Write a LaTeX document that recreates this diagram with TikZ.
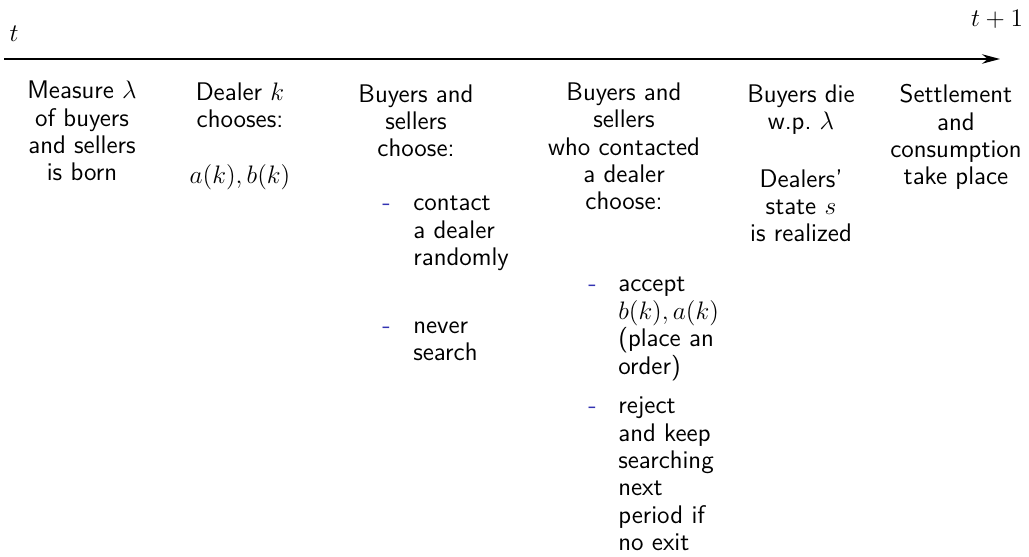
\documentclass[tikz,border=0pt]{standalone}
\usepackage{tikz}
\usetikzlibrary{arrows.meta}
\definecolor{dashblue}{RGB}{51,51,178}
\newcommand{\itemdash}[1]{\makebox[#1][l]{\textcolor{dashblue}{-}}}

\begin{document}
\begin{tikzpicture}[x=0.02cm, y=-0.02cm, >={Stealth[length=3.6mm, width=1.9mm]},
  font=\sffamily\fontsize{14.5}{15.6}\selectfont,
  stage/.style={align=center, anchor=base, inner sep=0pt},
  choices/.style={anchor=base west, inner sep=0pt}]
  \useasboundingbox (0,0) rectangle (1029,557);

  % Timeline axis
  \coordinate (start) at (4,59);
  \coordinate (stop) at (1000,59);
  \draw[->, line width=0.8pt] (start) -- (stop);
  \node[stage] (tnow) at (14,42) {$t$};
  \node[stage] (tnext) at (997,27) {$t+1$};

  % Stages of the period (placed by the baseline of their last line)
  \node[stage] (born) at (82,181) {Measure $\lambda$\\of buyers\\and sellers\\is born};
  \node[stage] (quote) at (240,184) {Dealer $k$\\chooses:\\[0.58cm]$a(k), b(k)$};
  \node[stage] (search) at (416,157) {Buyers and\\sellers\\choose:};
  \node[stage] (trade) at (624,210) {Buyers and\\sellers\\who contacted\\a dealer\\choose:};
  \node[stage] (death) at (801,242) {Buyers die\\w.p.~$\lambda$\\[0.6cm]Dealers'\\state $s$\\is realized};
  \node[stage] (settle) at (956,185) {Settlement\\and\\consumption\\take place};

  % Choices
  \node[choices] (searchopts) at (382,211) {\begin{tabular}[t]{@{}l@{}l@{}}
    \itemdash{0.62cm} & contact\\
    & a dealer\\
    & randomly\\[0.8cm]
    \itemdash{0.62cm} & never\\
    & search
  \end{tabular}};
  \node[choices] (tradeopts) at (588,292) {\begin{tabular}[t]{@{}l@{}l@{}}
    \itemdash{0.6cm} & accept\\
    & $b(k), a(k)$\\
    & (place an\\
    & order)\\[0.24cm]
    \itemdash{0.6cm} & reject\\
    & and keep\\
    & searching\\
    & next\\
    & period if\\
    & no exit
  \end{tabular}};
\end{tikzpicture}
\end{document}
